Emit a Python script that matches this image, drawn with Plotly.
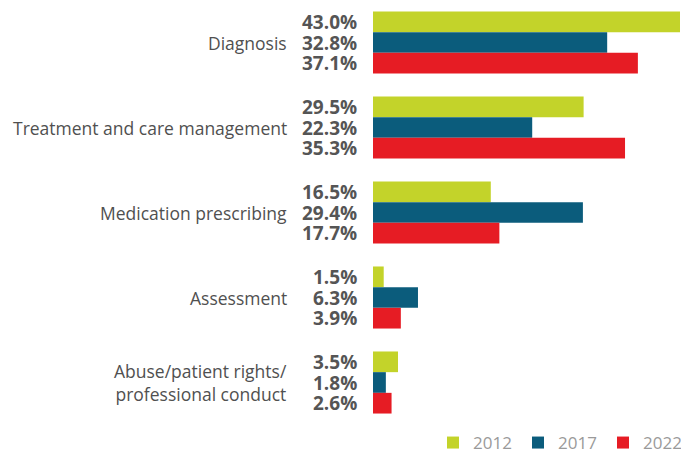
import plotly.graph_objects as go

categories = ["Diagnosis", "Treatment and care management", "Medication prescribing",
              "Assessment", "Abuse/patient rights/<br>professional conduct"]
years = ["2012", "2017", "2022"]
v2012 = [43.0, 29.5, 16.5, 1.5, 3.5]
v2017 = [32.8, 22.3, 29.4, 6.3, 1.8]
v2022 = [37.1, 35.3, 17.7, 3.9, 2.6]
colors = ["#c3d32a", "#0b5c7c", "#e61c24"]

series = [v2012, v2017, v2022]
ypos = list(range(len(categories)))
bargap = 0.27
bw = (1 - bargap) / 3
unit_px = 85.0
H = 454

fig = go.Figure()
for name, vals, col in zip(years, series, colors):
    fig.add_trace(go.Bar(y=ypos, x=vals, orientation="h", name=name,
                         marker=dict(color=col, line=dict(width=0))))

ann = []
for j, vals in enumerate(series):
    for i, v in enumerate(vals):
        ann.append(dict(x=0, y=i + (j - 1) * bw, xref="x", yref="y",
                        text=f"<b>{v:.1f}%</b>", showarrow=False,
                        xanchor="right", yanchor="middle", xshift=-14,
                        font=dict(family="Open Sans", size=19, color="#555555")))
for i, c in enumerate(categories):
    ann.append(dict(x=0, y=i, xref="paper", yref="y", text=c, showarrow=False,
                    xanchor="right", yanchor="middle", xshift=-84, align="right",
                    font=dict(family="Open Sans", size=17.5, color="#505050")))

y_top = -0.5
y_bot = y_top + H / unit_px

fig.update_layout(
    width=681, height=H,
    margin=dict(l=373, r=1, t=0, b=0, autoexpand=False),
    paper_bgcolor="white", plot_bgcolor="white",
    barmode="group", bargap=bargap, bargroupgap=0,
    xaxis=dict(range=[0, 43], visible=False),
    yaxis=dict(range=[y_bot, y_top], visible=False),
    annotations=ann,
    showlegend=True,
    legend=dict(orientation="h", x=1.026, xanchor="right", y=(H - 443) / H, yanchor="middle",
                font=dict(family="Open Sans", size=17, color="#9a9a9a"),
                entrywidth=40, traceorder="normal", bgcolor="rgba(0,0,0,0)"),
)
fig.write_html("out.html", config={"displayModeBar": False},
               post_script="document.body.style.margin='0';")
